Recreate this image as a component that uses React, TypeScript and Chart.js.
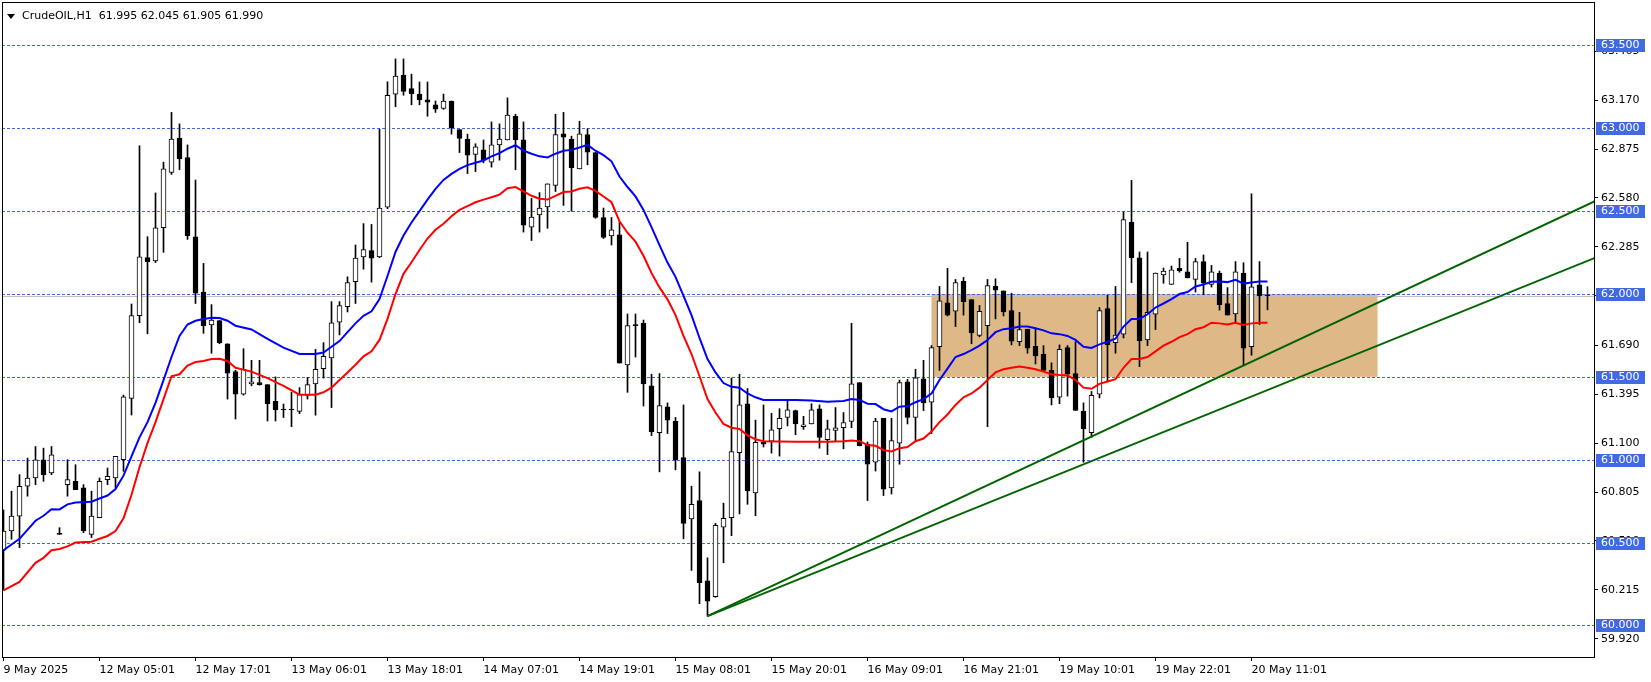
import React, { useEffect, useRef } from "react";
import { Chart, registerables } from "chart.js";

Chart.register(...registerables);

const SYMBOL = "CrudeOIL,H1";

const OPEN = [
  60.454, 60.57, 60.66, 60.84, 60.89, 61.0, 60.92, 60.55, 60.85, 60.87,
  60.83, 60.55, 60.65, 60.88, 60.89, 61.0, 61.37, 61.87, 62.22, 62.2,
  62.4, 62.734, 62.942, 62.824, 62.346, 62.012, 61.813, 61.84, 61.7, 61.532,
  61.396, 61.458, 61.465, 61.453, 61.352, 61.3, 61.305, 61.292, 61.39, 61.458,
  61.55, 61.615, 61.83, 61.924, 62.074, 62.224, 62.263, 62.224, 62.524, 63.207,
  63.322, 63.24, 63.207, 63.172, 63.142, 63.12, 63.165, 62.992, 62.935, 62.842,
  62.87, 62.796, 62.9, 62.93, 63.073, 62.93, 62.404, 62.478, 62.526, 62.656,
  62.967, 62.935, 62.755, 62.962, 62.854, 62.462, 62.351, 62.358, 61.573, 61.809,
  61.823, 61.446, 61.163, 61.32, 61.232, 61.013, 60.643, 60.754, 60.27, 60.173,
  60.593, 60.65, 61.043, 61.338, 60.8, 61.105, 61.112, 61.188, 61.255, 61.297,
  61.2, 61.216, 61.308, 61.121, 61.177, 61.193, 61.232, 61.465, 61.094, 60.985,
  61.25, 60.83, 61.1, 61.47, 61.255, 61.488, 61.347, 61.682, 61.947, 61.896,
  62.076, 61.966, 61.751, 61.809, 62.046, 62.019, 61.9, 61.712, 61.788, 61.684,
  61.636, 61.539, 61.377, 61.677, 61.52, 61.292, 61.163, 61.396, 61.913, 61.707,
  61.758, 62.434, 62.219, 61.723, 61.878, 62.116, 62.058, 62.155, 62.134, 62.088,
  62.196, 62.058, 62.127, 61.943, 61.88, 62.127, 61.682, 62.056, 61.995,
];

const HIGH = [
  60.697, 60.81, 60.91, 61.01, 61.08, 61.07, 61.08, 60.59, 61.0, 60.97,
  60.85, 60.81, 60.89, 60.95, 61.02, 61.39, 61.94, 62.895, 62.346, 62.61,
  62.796, 63.096, 63.027, 62.9, 62.688, 62.185, 61.936, 61.84, 61.7, 61.54,
  61.67, 61.6, 61.6, 61.453, 61.5, 61.336, 61.407, 61.435, 61.497, 61.666,
  61.707, 61.954, 61.954, 62.104, 62.296, 62.425, 62.42, 62.995, 63.281, 63.419,
  63.419, 63.327, 63.28, 63.28, 63.165, 63.207, 63.165, 62.992, 62.965, 62.907,
  62.93, 63.039, 63.027, 63.184, 63.085, 63.039, 62.577, 62.612, 62.665, 63.085,
  63.096, 62.953, 63.043, 62.997, 62.854, 62.519, 62.462, 62.432, 61.88, 61.88,
  61.843, 61.516, 61.52, 61.343, 61.255, 61.331, 60.84, 60.927, 60.408, 60.616,
  60.738, 61.493, 61.516, 61.43, 61.239, 61.331, 61.28, 61.308, 61.359, 61.3,
  61.262, 61.338, 61.331, 61.239, 61.315, 61.285, 61.823, 61.465, 61.107, 61.25,
  61.25, 61.25, 61.481, 61.486, 61.546, 61.6, 61.689, 62.046, 62.155, 62.088,
  62.1, 61.966, 61.931, 62.088, 62.092, 62.019, 62.005, 61.89, 61.788, 61.788,
  61.689, 61.585, 61.693, 61.689, 61.712, 61.343, 61.412, 61.919, 61.993, 62.046,
  62.496, 62.686, 62.254, 62.254, 62.127, 62.157, 62.169, 62.215, 62.312, 62.215,
  62.236, 62.173, 62.139, 62.039, 62.196, 62.189, 62.605, 62.196, 62.045,
];

const LOW = [
  60.212, 60.52, 60.47, 60.78, 60.85, 60.87, 60.91, 60.55, 60.78, 60.82,
  60.56, 60.53, 60.65, 60.85, 60.83, 60.93, 61.27, 61.827, 61.76, 62.19,
  62.252, 62.722, 62.75, 62.33, 61.943, 61.763, 61.643, 61.7, 61.366, 61.246,
  61.39, 61.446, 61.45, 61.234, 61.234, 61.255, 61.2, 61.278, 61.366, 61.269,
  61.493, 61.315, 61.753, 61.892, 61.943, 62.15, 62.072, 62.22, 62.515, 63.131,
  63.2, 63.142, 63.142, 63.073, 63.096, 63.115, 62.965, 62.854, 62.727, 62.739,
  62.792, 62.766, 62.808, 62.93, 62.75, 62.374, 62.323, 62.374, 62.397, 62.619,
  62.535, 62.5, 62.755, 62.78, 62.457, 62.335, 62.296, 61.583, 61.407, 61.62,
  61.324, 61.146, 60.927, 61.158, 60.939, 60.523, 60.332, 60.131, 60.056, 60.17,
  60.378, 60.542, 60.673, 60.731, 60.662, 61.077, 61.04, 61.022, 61.204, 61.151,
  61.183, 61.216, 61.07, 61.031, 61.112, 61.066, 61.193, 61.084, 60.754, 60.932,
  60.784, 60.793, 60.973, 61.216, 61.112, 61.297, 61.158, 61.539, 61.868, 61.804,
  61.873, 61.7, 61.742, 61.2, 61.85, 61.868, 61.693, 61.689, 61.643, 61.578,
  61.539, 61.331, 61.338, 61.384, 61.297, 60.985, 61.135, 61.373, 61.47, 61.643,
  61.735, 62.069, 61.562, 61.689, 61.786, 62.065, 62.058, 62.132, 62.097, 62.012,
  61.996, 62.042, 61.903, 61.873, 61.827, 61.573, 61.631, 61.816, 61.905,
];

const CLOSE = [
  60.57, 60.66, 60.84, 60.89, 61.0, 60.91, 61.03, 60.55, 60.88, 60.82,
  60.57, 60.66, 60.87, 60.9, 61.02, 61.38, 61.87, 62.224, 62.196, 62.4,
  62.755, 62.935, 62.815, 62.353, 62.005, 61.809, 61.843, 61.705, 61.523, 61.396,
  61.546, 61.47, 61.453, 61.338, 61.301, 61.3, 61.3, 61.393, 61.453, 61.546,
  61.624, 61.827, 61.93, 62.069, 62.217, 62.268, 62.217, 62.519, 63.2, 63.315,
  63.223, 63.21, 63.172, 63.158, 63.115, 63.165, 63.004, 62.939, 62.838, 62.889,
  62.808, 62.9, 62.935, 63.08, 62.93, 62.415, 62.464, 62.519, 62.665, 62.962,
  62.946, 62.762, 62.967, 62.856, 62.462, 62.342, 62.388, 61.583, 61.809, 61.809,
  61.458, 61.17, 61.327, 61.239, 61.001, 60.616, 60.731, 60.258, 60.147, 60.604,
  60.646, 61.05, 61.331, 60.812, 61.105, 61.094, 61.181, 61.25, 61.301, 61.216,
  61.211, 61.301, 61.135, 61.186, 61.193, 61.225, 61.458, 61.084, 60.973, 61.234,
  60.823, 61.116, 61.465, 61.255, 61.495, 61.343, 61.677, 61.959, 61.873, 62.069,
  61.954, 61.765, 61.896, 62.051, 62.023, 61.892, 61.716, 61.786, 61.673, 61.627,
  61.539, 61.373, 61.666, 61.516, 61.297, 61.186, 61.389, 61.9, 61.693, 61.753,
  62.45, 62.219, 61.719, 61.889, 62.127, 62.139, 62.146, 62.139, 62.097, 62.196,
  62.065, 62.134, 61.936, 61.873, 62.134, 61.673, 62.044, 61.989, 61.99,
];

const MA_IDX = [
  0, 2, 4, 5, 6, 7, 8, 9, 11, 12, 13, 14, 15, 16, 17, 18, 19, 20, 21, 22, 23, 24, 25, 26, 27, 28,
  29, 31, 33, 35, 37, 39, 40, 41, 42, 43, 44, 45, 46, 47, 48, 49, 50, 51, 52, 53, 54, 55, 56,
  57, 58, 59, 60, 61, 62, 63, 64, 65, 66, 67, 68, 69, 70, 71, 72, 73, 74, 75, 76, 77, 78, 79,
  80, 81, 82, 83, 84, 85, 86, 87, 88, 89, 90, 91, 92, 93, 94, 95, 97, 99, 101, 103, 105, 106,
  107, 108, 109, 110, 111, 112, 113, 114, 115, 116, 117, 118, 119, 120, 121, 122, 123, 124,
  125, 126, 127, 128, 129, 130, 131, 132, 133, 134, 135, 136, 137, 138, 139, 140, 141, 142,
  143, 144, 145, 146, 147, 148, 149, 150, 151, 152, 153, 154, 155, 156, 157, 158,
];

const MA_BLUE = [
  60.454, 60.523, 60.632, 60.662, 60.701, 60.7, 60.731, 60.742, 60.747, 60.766, 60.784, 60.823,
  60.904, 61.02, 61.135, 61.227, 61.343, 61.481, 61.62, 61.747, 61.816, 61.839, 61.85, 61.857,
  61.855, 61.839,
  61.809, 61.786, 61.73, 61.677, 61.638, 61.638, 61.647, 61.682, 61.716, 61.77, 61.823, 61.869,
  61.896, 61.97, 62.109, 62.254, 62.353, 62.432, 62.5, 62.57, 62.635, 62.689, 62.725,
  62.755, 62.778, 62.792, 62.806, 62.831, 62.85, 62.877, 62.898, 62.865, 62.847, 62.831, 62.824,
  62.847, 62.865, 62.87, 62.884, 62.9, 62.865, 62.838, 62.801, 62.709, 62.646, 62.589,
  62.508, 62.404, 62.295, 62.19, 62.104, 61.989, 61.873, 61.735, 61.608, 61.527, 61.463, 61.44,
  61.435, 61.4, 61.377, 61.361, 61.361, 61.361, 61.357, 61.35, 61.354, 61.366,
  61.361, 61.338, 61.336, 61.305, 61.292, 61.32, 61.324, 61.347, 61.366, 61.4, 61.481, 61.55,
  61.62, 61.638, 61.661, 61.689, 61.723, 61.77,
  61.788, 61.793, 61.804, 61.804, 61.793, 61.781, 61.763, 61.758, 61.747, 61.723, 61.682, 61.675,
  61.696, 61.712, 61.73, 61.804, 61.85, 61.85,
  61.878, 61.919, 61.943, 61.97, 62.0, 62.012, 62.046, 62.058, 62.074, 62.076, 62.072, 62.086,
  62.063, 62.069, 62.076, 62.076,
];

const MA_RED = [
  60.212, 60.263, 60.378, 60.408, 60.454, 60.461, 60.477, 60.5, 60.505, 60.523, 60.54, 60.57,
  60.646, 60.789, 60.955, 61.1, 61.227, 61.366, 61.504, 61.516, 61.569, 61.59, 61.596, 61.608,
  61.61, 61.596,
  61.555, 61.532, 61.493, 61.446, 61.393, 61.393, 61.407, 61.435, 61.481, 61.527, 61.573, 61.624,
  61.654, 61.723, 61.85, 62.0, 62.122, 62.192, 62.266, 62.335, 62.388, 62.424, 62.469,
  62.508, 62.531, 62.554, 62.57, 62.584, 62.6, 62.639, 62.646, 62.619, 62.593, 62.575, 62.57,
  62.593, 62.616, 62.619, 62.635, 62.644, 62.623, 62.589, 62.554, 62.439, 62.37, 62.316,
  62.231, 62.127, 62.04, 61.968, 61.873, 61.747, 61.638, 61.504, 61.366, 61.285, 61.216, 61.193,
  61.186, 61.147, 61.124, 61.112, 61.11, 61.108, 61.108, 61.108, 61.112, 61.116,
  61.112, 61.089, 61.084, 61.058, 61.05, 61.07, 61.077, 61.112, 61.128, 61.17, 61.227, 61.273,
  61.331, 61.377, 61.4, 61.435, 61.481, 61.527,
  61.546, 61.555, 61.562, 61.555, 61.546, 61.532, 61.516, 61.511, 61.509, 61.481, 61.435, 61.428,
  61.458, 61.472, 61.486, 61.555, 61.608, 61.608,
  61.62, 61.654, 61.689, 61.712, 61.74, 61.758, 61.788, 61.8, 61.827, 61.823, 61.816, 61.827,
  61.813, 61.823, 61.827, 61.827,
];

const X_TICK_IDX = [0, 12, 24, 36, 48, 60, 72, 84, 96, 108, 120, 132, 144, 156];
const X_LABELS = [
  "9 May 2025", "12 May 05:01", "12 May 17:01", "13 May 06:01", "13 May 18:01",
  "14 May 07:01", "14 May 19:01", "15 May 08:01", "15 May 20:01", "16 May 09:01",
  "16 May 21:01", "19 May 10:01", "19 May 22:01", "20 May 11:01",
];
const Y_TICKS = [63.465, 63.17, 62.875, 62.58, 62.285, 61.99, 61.69, 61.395, 61.1, 60.805, 60.51, 60.215, 59.92];
const LEVELS = [63.5, 63.0, 62.5, 62.0, 61.5, 61.0, 60.5, 60.0];
const BID = 61.99;

const ZONE_X = [116, 171.75];
const ZONE_Y = [61.5, 62.0];
const TREND_X = [88, 200];
const TREND_A = [60.056, 62.585];
const TREND_B = [60.056, 62.239];

const X_RANGE = [-0.1875, 198.8125];
const Y_RANGE = [59.8096, 63.7625];

const FONT = '"DejaVu Sans", sans-serif';

const mt4Plugin = {
  id: "mt4",
  beforeDatasetsDraw(chart: any) {
    const { ctx, chartArea: a, scales } = chart;
    const x = scales.x;
    const y = scales.y;
    ctx.save();
    ctx.beginPath();
    ctx.rect(a.left, a.top, a.right - a.left, a.bottom - a.top);
    ctx.clip();
    const zx0 = x.getPixelForValue(ZONE_X[0]);
    const zx1 = x.getPixelForValue(ZONE_X[1]);
    const zy0 = y.getPixelForValue(ZONE_Y[1]);
    const zy1 = y.getPixelForValue(ZONE_Y[0]);
    ctx.fillStyle = "#DEB887";
    ctx.fillRect(zx0, zy0, zx1 - zx0, zy1 - zy0);
    const yb = Math.round(y.getPixelForValue(BID)) + 0.5;
    ctx.strokeStyle = "#C0C0C0";
    ctx.lineWidth = 1;
    ctx.beginPath();
    ctx.moveTo(a.left, yb);
    ctx.lineTo(a.right, yb);
    ctx.stroke();
    ctx.setLineDash([3, 2]);
    ctx.strokeStyle = "#4169E1";
    LEVELS.forEach((v) => {
      const yy = Math.round(y.getPixelForValue(v)) + 0.5;
      ctx.beginPath();
      ctx.moveTo(a.left, yy);
      ctx.lineTo(a.right, yy);
      ctx.stroke();
    });
    ctx.restore();
  },
  afterDraw(chart: any) {
    const { ctx, chartArea: a, scales } = chart;
    const y = scales.y;
    ctx.save();
    ctx.strokeStyle = "#000";
    ctx.lineWidth = 1;
    ctx.strokeRect(a.left + 0.5, a.top + 0.5, a.right - a.left, a.bottom - a.top);
    ctx.font = `11px ${FONT}`;
    ctx.textBaseline = "middle";
    ctx.textAlign = "left";
    LEVELS.forEach((v) => {
      const yy = Math.round(y.getPixelForValue(v));
      ctx.fillStyle = "#4169E1";
      ctx.fillRect(a.right + 2, yy - 6, 49, 13);
      ctx.fillStyle = "#FFFFFF";
      ctx.fillText(v.toFixed(3), a.right + 7, yy + 0.5);
    });
    const n = OPEN.length - 1;
    ctx.fillStyle = "#000";
    ctx.beginPath();
    ctx.moveTo(a.left + 5, a.top + 12);
    ctx.lineTo(a.left + 13, a.top + 12);
    ctx.lineTo(a.left + 9, a.top + 17);
    ctx.closePath();
    ctx.fill();
    const header = `${SYMBOL}  ${OPEN[n].toFixed(3)} ${HIGH[n].toFixed(3)} ${LOW[n].toFixed(3)} ${CLOSE[n].toFixed(3)}`;
    ctx.fillText(header, a.left + 20, a.top + 14.5);
    ctx.restore();
  },
};

export default function App() {
  const ref = useRef<HTMLCanvasElement>(null);

  useEffect(() => {
    const canvas = ref.current;
    if (!canvas) return;
    const idx = OPEN.map((_, i) => i);
    const wick = idx.map((i) => ({ x: i, y: [LOW[i], HIGH[i]] }));
    const body = idx.map((i) => ({
      x: i,
      y: [Math.min(OPEN[i], CLOSE[i]), Math.max(OPEN[i], CLOSE[i])],
    }));
    const bodyFill = idx.map((i) => (CLOSE[i] - OPEN[i] > 0.004 ? "#FFFFFF" : "#000000"));
    const blue = MA_IDX.map((v, k) => ({ x: v, y: MA_BLUE[k] }));
    const red = MA_IDX.map((v, k) => ({ x: v, y: MA_RED[k] }));
    const trendA = TREND_X.map((v, k) => ({ x: v, y: TREND_A[k] }));
    const trendB = TREND_X.map((v, k) => ({ x: v, y: TREND_B[k] }));

    const tickFont = { family: FONT, size: 11 };

    const chart = new Chart(canvas, {
      type: "bar",
      data: {
        datasets: [
          {
            type: "bar",
            data: wick as any,
            backgroundColor: "#000000",
            borderWidth: 0,
            barThickness: 1,
            grouped: false,
            order: 5,
          } as any,
          {
            type: "bar",
            data: body as any,
            backgroundColor: bodyFill,
            borderColor: "#000000",
            borderWidth: 1,
            borderSkipped: false,
            barThickness: 5,
            minBarLength: 1,
            grouped: false,
            order: 4,
          } as any,
          {
            type: "line",
            data: red as any,
            borderColor: "#FF0000",
            borderWidth: 2,
            pointRadius: 0,
            tension: 0,
            order: 3,
          } as any,
          {
            type: "line",
            data: blue as any,
            borderColor: "#0000FF",
            borderWidth: 2,
            pointRadius: 0,
            tension: 0,
            order: 2,
          } as any,
          {
            type: "line",
            data: trendA as any,
            borderColor: "#006400",
            borderWidth: 2,
            pointRadius: 0,
            order: 1,
          } as any,
          {
            type: "line",
            data: trendB as any,
            borderColor: "#006400",
            borderWidth: 2,
            pointRadius: 0,
            order: 1,
          } as any,
        ],
      },
      options: {
        responsive: false,
        animation: false,
        devicePixelRatio: 1,
        events: [],
        layout: { padding: { left: 2, top: 2, right: 0, bottom: 0 } },
        plugins: {
          legend: { display: false },
          tooltip: { enabled: false },
          title: { display: false },
        },
        scales: {
          x: {
            type: "linear",
            min: X_RANGE[0],
            max: X_RANGE[1],
            offset: false,
            grid: {
              offset: false,
              drawOnChartArea: false,
              drawTicks: true,
              tickLength: 4,
              color: "#000000",
            },
            border: { display: false },
            ticks: {
              align: "start",
              autoSkip: false,
              maxRotation: 0,
              minRotation: 0,
              padding: 3,
              color: "#000000",
              font: tickFont,
              callback: (v: any) => {
                const k = X_TICK_IDX.indexOf(Number(v));
                return k >= 0 ? X_LABELS[k] : "";
              },
            },
            afterBuildTicks: (s: any) => {
              s.ticks = X_TICK_IDX.map((v) => ({ value: v }));
            },
            afterFit: (s: any) => {
              s.height = 25;
              s.paddingLeft = 0;
              s.paddingRight = 0;
            },
          },
          y: {
            type: "linear",
            position: "right",
            min: Y_RANGE[0],
            max: Y_RANGE[1],
            beginAtZero: false,
            grid: {
              drawOnChartArea: false,
              drawTicks: true,
              tickLength: 4,
              color: "#000000",
            },
            border: { display: false },
            ticks: {
              autoSkip: false,
              padding: 3,
              color: "#000000",
              font: tickFont,
              callback: (v: any) => Number(v).toFixed(3),
            },
            afterBuildTicks: (s: any) => {
              s.ticks = Y_TICKS.map((v) => ({ value: v }));
            },
            afterFit: (s: any) => {
              s.width = 57;
              s.paddingTop = 0;
              s.paddingBottom = 0;
            },
          },
        },
      } as any,
      plugins: [mt4Plugin],
    });

    return () => chart.destroy();
  }, []);

  return (
    <div
      style={{
        position: "fixed",
        left: 0,
        top: 0,
        width: 1651,
        height: 682,
        background: "#FFFFFF",
      }}
    >
      <canvas ref={ref} width={1651} height={682} style={{ display: "block" }} />
    </div>
  );
}
